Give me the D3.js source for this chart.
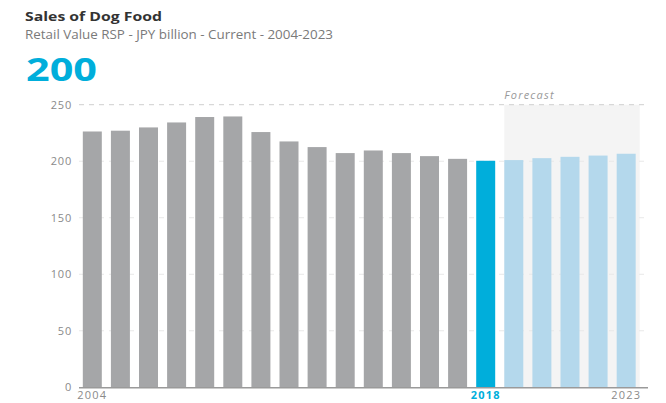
<!DOCTYPE html>
<html>
<head>
<meta charset="utf-8">
<script src="https://cdn.jsdelivr.net/npm/d3@7"></script>
<style>
  body { margin: 0; background: #fff; }
  text { font-family: "Open Sans", sans-serif; }
</style>
</head>
<body>
<script>
// data
var years = ["2004","2005","2006","2007","2008","2009","2010","2011","2012","2013",
             "2014","2015","2016","2017","2018","2019","2020","2021","2022","2023"];
var sales = [226.3, 227, 229.9, 234.3, 239.1, 239.6, 225.8, 217.5, 212.5, 207.2,
             209.5, 207.2, 204.5, 202.1, 200.4, 201, 202.7, 203.9, 205, 206.6];
var yTicks = [0, 50, 100, 150, 200, 250];
var xLabels = ["2004", "2018", "2023"];
var currentYear = "2018";
var forecastYears = ["2019","2020","2021","2022","2023"];

var w = 666, h = 403;

var svg = d3.select("body")
    .append("svg")
    .attr("width", w)
    .attr("height", h);

var x = d3.scaleBand()
    .domain(years)
    .range([80, 638.5])
    .paddingInner(0.324)
    .paddingOuter(0.1);

var y = d3.scaleLinear()
    .domain([0, 250])
    .range([387.3, 104.7]);

// forecast shade
var f0 = forecastYears[0], f1 = forecastYears[forecastYears.length - 1];
svg.append("rect")
    .attr("x", x(f0))
    .attr("y", y(250))
    .attr("width", x(f1) + x.bandwidth() + 4 - x(f0))
    .attr("height", y(0) - y(250))
    .style("fill", "#f4f4f4");

svg.append("text")
    .attr("x", x(f0))
    .attr("y", 99)
    .style("font-size", "11px")
    .style("font-style", "italic")
    .style("fill", "#999")
    .style("letter-spacing", "1.2px")
    .text("Forecast");

// gridlines
svg.selectAll(".grid")
    .data(yTicks.filter(function(d){ return d > 0; }))
    .enter()
    .append("line")
    .attr("class", "grid")
    .attr("x1", 79)
    .attr("x2", 646)
    .attr("y1", function(d){ return y(d); })
    .attr("y2", function(d){ return y(d); })
    .style("stroke", function(d){ return d == 250 ? "#cfcfcf" : "#e8e8e8"; })
    .style("stroke-width", 1)
    .style("stroke-dasharray", "5,5");

// bars
svg.selectAll(".bar")
    .data(years)
    .enter()
    .append("rect")
    .attr("class", "bar")
    .attr("x", function(d){ return x(d); })
    .attr("width", x.bandwidth())
    .attr("y", function(d, i){ return y(sales[i]); })
    .attr("height", function(d, i){ return y(0) - y(sales[i]); })
    .style("fill", function(d){
        if (d == currentYear) return "#00aedb";
        if (forecastYears.indexOf(d) >= 0) return "#b4d8ec";
        return "#a5a6a8";
    });

// y axis labels
var yAxis = d3.axisLeft(y)
    .tickValues(yTicks)
    .tickSize(0)
    .tickPadding(0);

var ga = svg.append("g")
    .attr("transform", "translate(72,0)")
    .call(yAxis);
ga.select(".domain").remove();
ga.selectAll("text")
    .style("font-family", "Open Sans, sans-serif")
    .style("font-size", "11px")
    .style("letter-spacing", "0.8px")
    .style("fill", "#8a8a8a");

// baseline
svg.append("line")
    .attr("x1", 79)
    .attr("x2", 648)
    .attr("y1", y(0) + 0.5)
    .attr("y2", y(0) + 0.5)
    .style("stroke", "#9a9a9a")
    .style("stroke-width", 1.5);

// x labels
var xAxis = d3.axisBottom(x)
    .tickValues(xLabels)
    .tickSize(0)
    .tickPadding(0);

var gx = svg.append("g")
    .attr("transform", "translate(0," + (y(0) + 4) + ")")
    .call(xAxis);
gx.select(".domain").remove();
gx.selectAll("text")
    .style("font-family", "Open Sans, sans-serif")
    .style("font-size", "11px")
    .style("letter-spacing", "1.2px")
    .style("font-weight", function(d){ return d == currentYear ? "bold" : "normal"; })
    .style("fill", function(d){ return d == currentYear ? "#00aedb" : "#8a8a8a"; });

// titles (stretched a bit, the source font is wider)
svg.append("text")
    .attr("x", 25)
    .attr("y", 21)
    .attr("textLength", 137)
    .attr("lengthAdjust", "spacingAndGlyphs")
    .style("font-size", "13px")
    .style("font-weight", "bold")
    .style("fill", "#333")
    .text("Sales of Dog Food");

svg.append("text")
    .attr("x", 25)
    .attr("y", 39)
    .attr("textLength", 308)
    .attr("lengthAdjust", "spacingAndGlyphs")
    .style("font-size", "12.5px")
    .style("fill", "#7a7a7a")
    .text("Retail Value RSP - JPY billion - Current - 2004-2023");

svg.append("text")
    .attr("x", 26)
    .attr("y", 81)
    .attr("textLength", 71)
    .attr("lengthAdjust", "spacingAndGlyphs")
    .style("font-size", "33px")
    .style("font-weight", "bold")
    .style("fill", "#00aedb")
    .text("200");
</script>
</body>
</html>
